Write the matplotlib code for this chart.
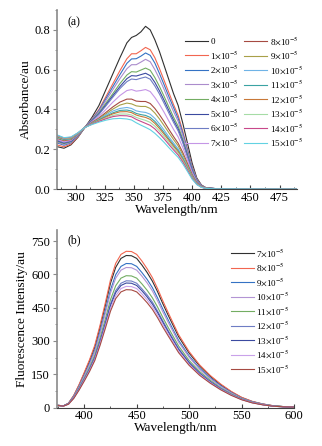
import matplotlib
matplotlib.use("Agg")
import matplotlib.pyplot as plt
from matplotlib.ticker import MultipleLocator

plt.rcParams['font.family'] = ['Liberation Serif', 'DejaVu Serif']
plt.rcParams['mathtext.fontset'] = 'stix'

# ---- (a) absorption spectra ----
wl_a = [284, 290, 296, 302, 308, 314, 320, 326, 332, 338, 344, 348, 352, 356, 360,
        364, 368, 372, 376, 380, 384, 388, 392, 396, 400, 404, 408, 412, 420, 490]

abs_0 = [.213, .205, .222, .26, .31, .36, .42, .50, .58, .66, .735, .762, .772, .79, .818, .80, .75, .69, .62, .55, .48, .42, .33, .23, .13, .055, .02, .006, .002, 0]
abs_1 = [.222, .212, .226, .262, .31, .352, .40, .465, .53, .595, .655, .68, .68, .695, .712, .70, .66, .605, .545, .485, .425, .37, .29, .20, .115, .05, .018, .006, .002, 0]
abs_2 = [.232, .22, .232, .266, .31, .35, .395, .455, .515, .575, .632, .654, .655, .668, .684, .672, .633, .58, .523, .465, .41, .355, .28, .195, .11, .048, .017, .005, .002, 0]
abs_3 = [.236, .224, .235, .268, .31, .348, .39, .445, .50, .555, .605, .625, .625, .638, .652, .64, .60, .553, .50, .443, .39, .34, .268, .186, .105, .046, .016, .005, .002, 0]
abs_4 = [.24, .228, .238, .27, .31, .345, .383, .432, .48, .53, .573, .59, .588, .598, .608, .597, .56, .515, .465, .413, .362, .316, .25, .174, .098, .043, .015, .005, .002, 0]
abs_5 = [.243, .231, .24, .271, .31, .343, .378, .424, .47, .515, .555, .57, .568, .575, .582, .57, .536, .493, .445, .395, .347, .302, .24, .167, .094, .041, .014, .005, .002, 0]
abs_6 = [.246, .234, .242, .272, .31, .342, .375, .418, .462, .505, .54, .553, .55, .557, .563, .552, .518, .477, .43, .382, .335, .292, .232, .162, .091, .04, .014, .005, .002, 0]
abs_7 = [.25, .238, .245, .274, .31, .338, .365, .40, .437, .47, .495, .50, .492, .495, .50, .49, .46, .425, .385, .342, .30, .262, .208, .145, .082, .036, .013, .004, .001, 0]
abs_8 = [.255, .243, .249, .276, .31, .334, .357, .385, .413, .437, .452, .452, .442, .44, .44, .43, .405, .373, .338, .30, .264, .23, .183, .128, .072, .032, .012, .004, .001, 0]
abs_9 = [.258, .246, .251, .277, .31, .332, .353, .378, .402, .422, .432, .428, .418, .415, .415, .405, .382, .352, .318, .283, .249, .217, .172, .12, .068, .03, .011, .004, .001, 0]
abs_10 = [.26, .248, .253, .278, .31, .33, .35, .372, .392, .405, .41, .405, .393, .388, .385, .376, .355, .327, .296, .263, .232, .202, .16, .112, .063, .028, .01, .003, .001, 0]
abs_11 = [.262, .25, .254, .279, .31, .329, .347, .366, .383, .395, .397, .392, .38, .374, .37, .36, .34, .313, .283, .252, .222, .193, .153, .107, .06, .027, .01, .003, .001, 0]
abs_12 = [.265, .252, .256, .28, .31, .328, .345, .362, .378, .388, .389, .384, .372, .365, .36, .35, .33, .304, .275, .245, .215, .187, .148, .104, .058, .026, .01, .003, .001, 0]
abs_13 = [.268, .254, .258, .281, .31, .327, .342, .357, .37, .377, .377, .372, .36, .352, .345, .335, .316, .291, .263, .234, .206, .179, .142, .10, .056, .025, .009, .003, .001, 0]
abs_14 = [.27, .256, .26, .282, .31, .326, .34, .353, .364, .369, .368, .363, .35, .34, .33, .32, .302, .278, .252, .224, .197, .171, .136, .095, .053, .024, .009, .003, .001, 0]
abs_15 = [.272, .258, .262, .283, .31, .324, .336, .346, .353, .355, .352, .347, .333, .321, .31, .298, .28, .258, .234, .208, .183, .159, .126, .088, .049, .022, .008, .003, .001, 0]

labels_a = ['0'] + [f'{i}$\\times$10$^{{-5}}$' for i in range(1, 16)]
colors_a = ['#303030', '#f26650', '#3472c4', '#ab8ccc', '#73ad62', '#3b4aa0', '#6e7dc4', '#c596e6',
            '#a64a42', '#a8a048', '#6fb3e6', '#3aa3a3', '#c87838', '#a6dca6', '#c8488a', '#62d2e2']

# ---- (b) fluorescence spectra ----
wl_b = [375, 380, 385, 390, 395, 400, 405, 410, 415, 420, 425, 430, 435, 440, 445, 450, 455,
        460, 465, 470, 475, 480, 490, 500, 510, 520, 530, 540, 550, 560, 570, 580, 590, 600]

fl_7 = [10, 7, 19, 53, 100, 154, 209, 272, 360, 458, 560, 632, 672, 685, 684, 672, 642, 608, 569, 521, 467, 416, 319, 245, 187, 141, 103, 71, 45, 27, 16, 8, 4, 2]
fl_8 = [10, 7, 20, 55, 103, 158, 215, 280, 370, 470, 575, 650, 690, 704, 703, 690, 660, 625, 585, 535, 480, 428, 328, 252, 192, 145, 106, 73, 46, 28, 16, 8, 4, 2]
fl_9 = [10, 7, 18, 51, 95, 146, 198, 258, 341, 434, 530, 599, 636, 649, 648, 636, 608, 577, 540, 493, 443, 395, 302, 232, 177, 134, 98, 68, 42, 26, 15, 7, 4, 2]
fl_10 = [10, 7, 18, 49, 92, 142, 193, 251, 332, 422, 516, 583, 619, 631, 630, 619, 592, 561, 525, 480, 430, 384, 294, 226, 172, 130, 95, 66, 41, 25, 15, 7, 4, 2]
fl_11 = [9, 7, 17, 46, 87, 133, 181, 236, 312, 397, 486, 549, 583, 594, 593, 583, 557, 528, 494, 452, 405, 361, 277, 212, 162, 123, 89, 62, 39, 24, 14, 7, 4, 2]
fl_12 = [9, 7, 16, 45, 84, 128, 174, 227, 300, 382, 467, 527, 560, 571, 570, 560, 535, 507, 475, 434, 390, 347, 266, 204, 156, 118, 86, 59, 37, 23, 13, 6, 3, 2]
fl_13 = [9, 7, 16, 44, 82, 126, 171, 223, 295, 375, 459, 518, 550, 561, 560, 550, 526, 498, 466, 427, 383, 341, 261, 201, 153, 116, 84, 58, 37, 22, 13, 6, 3, 2]
fl_14 = [9, 6, 15, 43, 80, 123, 167, 217, 287, 365, 446, 504, 536, 546, 545, 536, 512, 485, 454, 415, 373, 332, 254, 195, 149, 113, 82, 57, 36, 22, 13, 6, 3, 2]
fl_15 = [9, 6, 15, 41, 78, 119, 162, 211, 279, 355, 434, 491, 521, 531, 530, 521, 498, 472, 442, 404, 362, 323, 247, 190, 145, 110, 80, 55, 35, 21, 12, 6, 3, 2]

labels_b = [f'{i}$\\times$10$^{{-5}}$' for i in range(7, 16)]
colors_b = ['#303030', '#f26650', '#3472c4', '#b394d4', '#73ad62', '#6e7dc4', '#3b4aa0', '#c9a2ea', '#a64a42']


def style_axis(ax):
    for side in ['top', 'right']:
        ax.spines[side].set_visible(False)
    ax.spines['left'].set_color('#8a8a8a')
    ax.spines['left'].set_linewidth(1.2)
    ax.spines['bottom'].set_color('#404040')
    ax.spines['bottom'].set_linewidth(0.8)
    ax.tick_params(axis='x', which='both', direction='in', labelsize=9, pad=2, color='#404040')
    ax.tick_params(axis='x', which='major', length=3)
    ax.tick_params(axis='x', which='minor', length=1.5)
    ax.tick_params(axis='y', which='both', direction='out', labelsize=9, pad=2, color='#8a8a8a')
    ax.tick_params(axis='y', which='major', length=3)
    ax.tick_params(axis='y', which='minor', length=1.5)


fig = plt.figure(figsize=(3.22, 4.46), dpi=100)

# panel (a)
ax1 = fig.add_axes([57 / 322, 1 - 189 / 446, 240 / 322, 179 / 446])
series_a = [abs_0, abs_1, abs_2, abs_3, abs_4, abs_5, abs_6, abs_7,
            abs_8, abs_9, abs_10, abs_11, abs_12, abs_13, abs_14, abs_15]
for vals, lab, col in zip(series_a, labels_a, colors_a):
    ax1.plot(wl_a, vals, color=col, lw=0.8, label=lab)
ax1.set_xlim(284, 490)
ax1.set_ylim(0, 0.9)
ax1.xaxis.set_minor_locator(MultipleLocator(12.5))
ax1.yaxis.set_major_locator(MultipleLocator(0.2))
ax1.yaxis.set_minor_locator(MultipleLocator(0.1))
ax1.set_xticks([300, 325, 350, 375, 400, 425, 450, 475])
ax1.set_xlabel('Wavelength/nm', fontsize=9.5, labelpad=0)
ax1.set_ylabel('Absorbance/au', fontsize=9.5, labelpad=2)
style_axis(ax1)
ax1.text(0.045, 0.93, '(a)', transform=ax1.transAxes, fontsize=8.5, va='center')
ax1.legend(loc='upper left', bbox_to_anchor=(185 / 322, 1 - 35 / 446), bbox_transform=fig.transFigure,
           ncol=2, frameon=False, fontsize=6.5, borderpad=0, borderaxespad=0,
           handlelength=2.5, handletextpad=0.3, columnspacing=0.6, labelspacing=0.33)

# panel (b)
ax2 = fig.add_axes([57 / 322, 1 - 407.5 / 446, 237 / 322, 177.5 / 446])
series_b = [fl_7, fl_8, fl_9, fl_10, fl_11, fl_12, fl_13, fl_14, fl_15]
for vals, lab, col in zip(series_b, labels_b, colors_b):
    ax2.plot(wl_b, vals, color=col, lw=0.8, label=lab)
ax2.set_xlim(374, 600)
ax2.set_ylim(0, 800)
ax2.xaxis.set_major_locator(MultipleLocator(50))
ax2.xaxis.set_minor_locator(MultipleLocator(25))
ax2.yaxis.set_major_locator(MultipleLocator(150))
ax2.yaxis.set_minor_locator(MultipleLocator(75))
ax2.set_xlabel('Wavelength/nm', fontsize=9.5, labelpad=0)
ax2.set_ylabel('Fluorescence Intensity/au', fontsize=9.5, labelpad=2)
style_axis(ax2)
ax2.text(0.045, 0.94, '(b)', transform=ax2.transAxes, fontsize=8.5, va='center')
ax2.legend(loc='upper left', bbox_to_anchor=(231 / 322, 1 - 247 / 446), bbox_transform=fig.transFigure,
           frameon=False, fontsize=6.5, borderpad=0, borderaxespad=0,
           handlelength=2.5, handletextpad=0.3, labelspacing=0.33)

fig.savefig('out.png', dpi=100)
